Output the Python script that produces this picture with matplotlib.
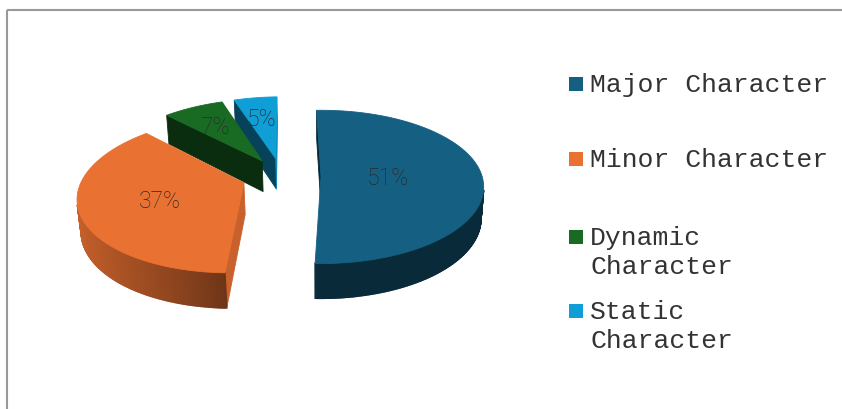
import textwrap
import numpy as np
import matplotlib.pyplot as plt
from matplotlib.patches import Polygon, Rectangle
from matplotlib.colors import to_rgb

# data
categories = ["Major Character", "Minor Character", "Dynamic Character", "Static Character"]
shares = [51, 37, 7, 5]
colors = ["#156082", "#E97132", "#196B24", "#0F9ED5"]

# 3d look
explode = 0.245         # fraction of radius
rotation = -1.8         # first slice angle (deg)
R = 161.0               # radius (px)
T = 36.0                # thickness
phi = np.radians(27.8)  # tilt
D = 1000.0              # camera distance
target = (321, 177)     # where the camera looks on screen

W, H = 842, 410
fig = plt.figure(figsize=(W / 100, H / 100), dpi=100)
ax = fig.add_axes([0, 0, 1, 1])
ax.set_xlim(0, W)
ax.set_ylim(H, 0)
ax.axis("off")

# chart frame
ax.add_patch(Rectangle((7, 11), W, H, fill=False, edgecolor="#999999", lw=1.5))

vals = np.array(shares, dtype=float)
ends = rotation + np.cumsum(vals) / vals.sum() * 360
starts = ends - vals / vals.sum() * 360
mids = (starts + ends) / 2

cam_x = explode * R * np.sin(np.radians(mids[0]))
cam = np.array([cam_x, -D * np.cos(phi), D * np.sin(phi)])


def proj(X, Y, Z):
    d = Y * np.cos(phi) - Z * np.sin(phi)
    u = Y * np.sin(phi) + Z * np.cos(phi)
    f = D / (D + d)
    return target[0] + (X - cam_x) * f, target[1] - u * f


def shade(c, k):
    return tuple(np.clip(np.array(to_rgb(c)) * k, 0, 1))


def face(pts, col, lw=0.6):
    xy = [proj(*p) for p in pts]
    ax.add_patch(Polygon(xy, closed=True, facecolor=col, edgecolor=col, lw=lw))


order = np.argsort([-np.cos(np.radians(m)) for m in mids])
for i in order:
    a0, a1, m = starts[i], ends[i], mids[i]
    ox = explode * R * np.sin(np.radians(m))
    oy = explode * R * np.cos(np.radians(m))
    c = colors[i]

    def rim(t, z):
        return (ox + R * np.sin(np.radians(t)), oy + R * np.cos(np.radians(t)), z)

    apex_t, apex_b = (ox, oy, 0.0), (ox, oy, -T)

    # cut faces
    for a, nang in ((a0, a0 - 90), (a1, a1 + 90)):
        n = np.array([np.sin(np.radians(nang)), np.cos(np.radians(nang)), 0])
        if np.dot(n, cam - np.array(apex_t)) > 1e-6:
            k = 0.42 if n[0] < 0 else 0.86
            face([apex_t, rim(a, 0), rim(a, -T), apex_b], shade(c, k))

    # outer wall
    ts = np.linspace(a0, a1, max(int(a1 - a0) * 2, 4))
    for t0, t1 in zip(ts[:-1], ts[1:]):
        tm = (t0 + t1) / 2
        n = np.array([np.sin(np.radians(tm)), np.cos(np.radians(tm)), 0])
        if np.dot(n, cam - np.array(rim(tm, 0))) > 0:
            k = 0.44 + 0.42 * max(0.0, -n[0]) ** 0.8
            face([rim(t0, 0), rim(t1, 0), rim(t1, -T), rim(t0, -T)], shade(c, k), lw=1.1)

    # top
    top = [apex_t] + [rim(t, 0) for t in np.linspace(a0, a1, 120)]
    face(top, c)

    # label at the sector centroid
    half = np.radians(a1 - a0) / 2
    rc = 2 * R * np.sin(half) / (3 * half)
    lx, ly = proj(ox + rc * np.sin(np.radians(m)), oy + rc * np.cos(np.radians(m)), 0)
    ax.text(lx, ly + 2, f"{shares[i]}%", ha="center", va="center", fontsize=16.5,
            family="Roboto", fontweight="light", fontstyle="normal", color="#2a2a2a")

# legend
legend_y = [85, 160, 238, 312]
for name, c, y in zip(categories, colors, legend_y):
    ax.add_patch(Rectangle((569, y - 7), 14, 14, facecolor=c, edgecolor="none"))
    for k, line in enumerate(textwrap.wrap(name, 15)):
        ax.text(590, y + k * 29.5, line, ha="left", va="center", fontsize=19,
                family="Liberation Mono", color="#333333")

fig.savefig("out.png", dpi=100)
